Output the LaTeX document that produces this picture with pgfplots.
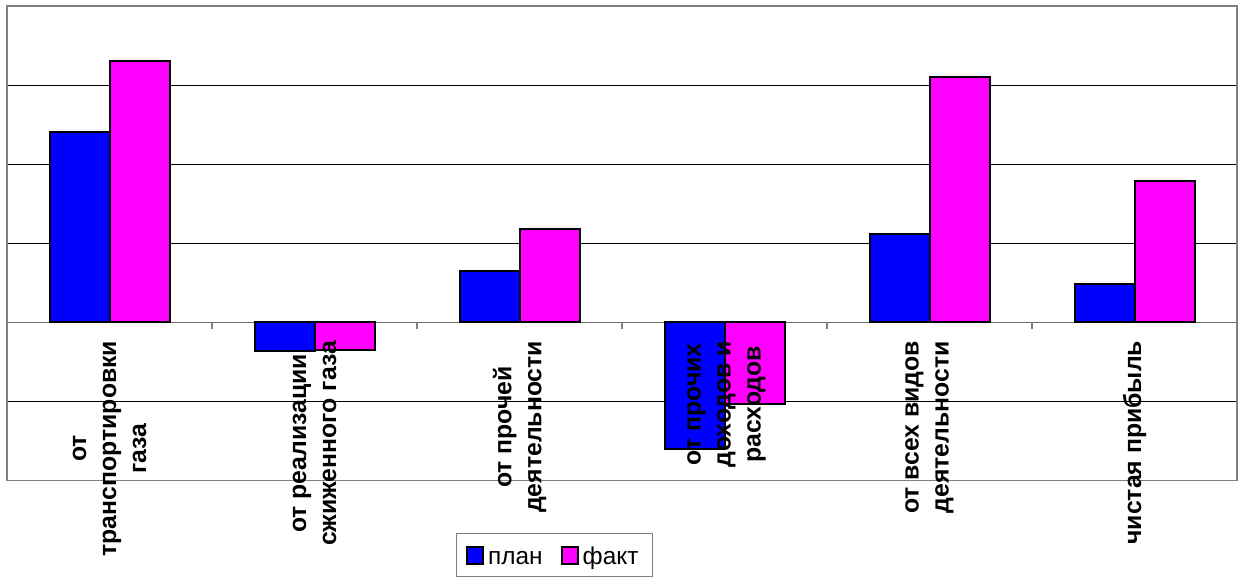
\documentclass[border=0pt]{standalone}
\usepackage{pgfplots}
\pgfplotsset{compat=1.18}
\usepackage{fontspec}
\setmainfont{Liberation Sans}[BoldFont={Liberation Sans Bold}]
\definecolor{planc}{RGB}{0,0,255}
\definecolor{faktc}{RGB}{255,0,255}
\definecolor{framec}{RGB}{128,128,128}
\begin{document}
\begin{tikzpicture}
\path[use as bounding box] (0,0) rectangle (620pt,290.5pt);
\begin{axis}[
  at={(3.5pt,50.25pt)}, anchor=south west,
  scale only axis, width=615pt, height=237.25pt,
  xmin=-0.5, xmax=5.5, ymin=-2, ymax=4,
  xtick=\empty, ytick={-1,1,2,3}, yticklabels={},
  extra y ticks={0}, extra y tick labels={},
  extra y tick style={grid style={framec!85!black, line width=0.75pt}},
  major tick length=0pt,
  ymajorgrids, grid style={black, line width=0.5pt},
  axis line style={framec, line width=0.9pt},
  clip=false,
  ybar=0pt, bar width=30pt,
  legend columns=2,
  legend style={at={(0.445,-0.1106)}, anchor=north, draw=framec, line width=0.6pt,
    font=\fontsize{12.2}{14}\selectfont, inner xsep=5pt, inner ysep=4pt,
    nodes={text height=9.5pt, text depth=0pt},
    /tikz/every even column/.append style={column sep=7pt},
    /tikz/every odd column/.append style={column sep=0pt}},
  legend image code/.code={\draw[#1, draw=black, line width=1pt] (0pt,-4.25pt) rectangle (8pt,4.25pt);},
]
\pgfplotsinvokeforeach{-0.5,0.5,1.5,2.5,3.5,4.5,5.5}{
  \draw[framec, line width=0.6pt] (axis cs:#1,0) -- ++(0pt,-3.5pt);
}
\addplot[fill=planc, draw=black, line width=1pt] coordinates {
  (0,2.41) (1,-0.36) (2,0.65) (3,-1.60) (4,1.12) (5,0.49)};
\addplot[fill=faktc, draw=black, line width=1pt] coordinates {
  (0,3.30) (1,-0.35) (2,1.18) (3,-1.03) (4,3.10) (5,1.785)};
\legend{план,факт}
\tikzset{lab/.style={rotate=90, anchor=east, align=center, inner sep=0pt,
  font=\bfseries\fontsize{12.4}{15}\selectfont}}
\node[lab] at (axis cs:0,-0.23) {\bfseries от\\\bfseries транспортировки\\\bfseries газа};
\node[lab] at (axis cs:1,-0.23) {\bfseries от реализации\\\bfseries сжиженного газа};
\node[lab] at (axis cs:2,-0.23) {\bfseries от прочей\\\bfseries деятельности};
\node[lab] at (axis cs:3.01,-0.23) {\bfseries от прочих\\\bfseries доходов и\\\bfseries расходов};
\node[lab] at (axis cs:4,-0.23) {\bfseries от всех видов\\\bfseries деятельности};
\node[lab] at (axis cs:5,-0.23) {\bfseries чистая прибыль};
\end{axis}
\end{tikzpicture}
\end{document}
